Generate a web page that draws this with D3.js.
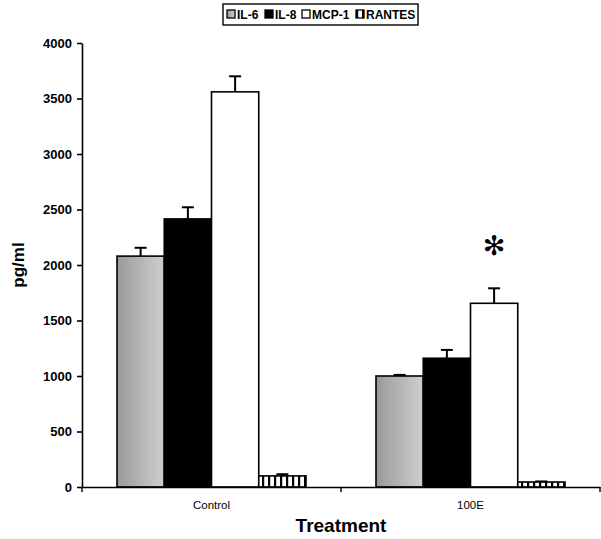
<!DOCTYPE html>
<html>
<head>
<meta charset="utf-8">
<script src="https://cdn.jsdelivr.net/npm/d3@7"></script>
<style>
body { margin: 0; background: #fff; }
text { font-family: Arial, "Liberation Sans", sans-serif; font-weight: bold; }
</style>
</head>
<body>
<div id="chart"></div>
<script>
// data
const treatments = ["Control", "100E"];
const cytokines = ["IL-6", "IL-8", "MCP-1", "RANTES"];
const means = [
    [2080, 2415, 3560, 100],
    [1000, 1160, 1655, 45]
];
const errors = [
    [75, 105, 140, 15],
    [10, 75, 135, 5]
];
const yTicks = [0, 500, 1000, 1500, 2000, 2500, 3000, 3500, 4000];

const W = 601, H = 539;
const margin = { top: 43, right: 1, bottom: 52, left: 82 },
width = W - margin.left - margin.right,
height = H - margin.top - margin.bottom;

const svgRoot = d3.select("#chart")
    .append("svg")
    .attr("width", W)
    .attr("height", H);

const defs = svgRoot.append("defs");
const grad = defs.append("linearGradient").attr("id", "il6grad")
    .attr("x1", "0%").attr("x2", "100%").attr("y1", "0%").attr("y2", "0%");
grad.append("stop").attr("offset", "0%").attr("stop-color", "#9a9a9a");
grad.append("stop").attr("offset", "100%").attr("stop-color", "#cfcfcf");

const pat = defs.append("pattern").attr("id", "stripes")
    .attr("patternUnits", "userSpaceOnUse")
    .attr("width", 6).attr("height", 6);
pat.append("rect").attr("width", 6).attr("height", 6).attr("fill", "#fff");
pat.append("rect").attr("x", 0).attr("width", 2.2).attr("height", 6).attr("fill", "#000");

const fills = ["url(#il6grad)", "#000", "#fff", "url(#stripes)"];

const svg = svgRoot.append("g")
    .attr("transform", `translate(${margin.left},${margin.top})`);

const x0 = d3.scaleBand().domain(treatments).range([0, width]).paddingInner(0).paddingOuter(0);
const x1 = d3.scaleBand().domain(cytokines).range([35, x0.bandwidth() - 35]);
const y = d3.scaleLinear().domain([0, 4000]).range([height, 0]);

// bars
const groups = svg.selectAll(".grp")
    .data(treatments)
    .enter().append("g")
    .attr("class", "grp")
    .attr("transform", d => `translate(${x0(d)},0)`);

groups.each(function (t, ti) {
    const g = d3.select(this);
    const rows = cytokines.map((c, ci) => ({ c: c, ci: ci, v: means[ti][ci], e: errors[ti][ci] }));
    // error bars first so bar outline sits on top
    rows.forEach(d => {
        const cx = x1(d.c) + x1.bandwidth() / 2;
        g.append("line").attr("x1", cx).attr("x2", cx)
            .attr("y1", y(d.v)).attr("y2", y(d.v + d.e))
            .attr("stroke", "#000").attr("stroke-width", 2);
        g.append("line").attr("x1", cx - 6).attr("x2", cx + 6)
            .attr("y1", y(d.v + d.e)).attr("y2", y(d.v + d.e))
            .attr("stroke", "#000").attr("stroke-width", 2);
    });
    g.selectAll("rect.bar")
        .data(rows)
        .enter().append("rect")
        .attr("class", "bar")
        .attr("x", d => x1(d.c))
        .attr("width", x1.bandwidth())
        .attr("y", d => y(d.v))
        .attr("height", d => height - y(d.v))
        .attr("fill", d => fills[d.ci])
        .attr("stroke", "#000")
        .attr("stroke-width", 1.6);
});

// asterisk above 100E MCP-1
svg.append("text")
    .attr("x", x0("100E") + x1("MCP-1") + x1.bandwidth() / 2)
    .attr("y", y(1655 + 135) - 43)
    .attr("text-anchor", "middle")
    .attr("dominant-baseline", "central")
    .style("font-family", "'DejaVu Sans', sans-serif")
    .style("font-weight", "normal")
    .attr("font-size", 27)
    .text("✻");

// y axis
const yAxis = svg.append("g")
    .call(d3.axisLeft(y).tickValues(yTicks).tickFormat(d3.format("d")).tickSize(5).tickSizeOuter(0));
yAxis.select(".domain").attr("stroke-width", 1.6);
yAxis.selectAll(".tick line").attr("stroke-width", 1.6);
yAxis.selectAll("text").attr("font-size", 13).attr("fill", "#000").attr("dx", -2);

// x axis
const xAxis = svg.append("g")
    .attr("transform", `translate(0,${height})`)
    .call(d3.axisBottom(x0).tickSize(0).tickPadding(14));
xAxis.select(".domain").attr("stroke-width", 1.6);
xAxis.selectAll("text").attr("font-size", 11.5).attr("fill", "#000")
    .style("font-weight", "normal");
[0, width / 2, width].forEach(v => {
    xAxis.append("line").attr("x1", v).attr("x2", v).attr("y1", 0).attr("y2", 5)
        .attr("stroke", "#000").attr("stroke-width", 1.4);
});

// axis titles
svgRoot.append("text")
    .attr("transform", `translate(24,${margin.top + height / 2}) rotate(-90)`)
    .attr("text-anchor", "middle")
    .attr("font-size", 17)
    .text("pg/ml");

svgRoot.append("text")
    .attr("x", margin.left + width / 2)
    .attr("y", 532)
    .attr("text-anchor", "middle")
    .attr("font-size", 19)
    .text("Treatment");

// legend
const legend = svgRoot.append("g").attr("transform", "translate(223,4)");
legend.append("rect").attr("width", 195).attr("height", 21)
    .attr("fill", "#fff").attr("stroke", "#000").attr("stroke-width", 1.4);
const legX = [4, 42, 79, 133];
cytokines.forEach((c, i) => {
    const it = legend.append("g").attr("transform", `translate(${legX[i]},6)`);
    it.append("rect").attr("width", 8).attr("height", 8)
        .attr("fill", fills[i]).attr("stroke", "#000").attr("stroke-width", 1.3);
    it.append("text").attr("x", 10).attr("y", 9).attr("font-size", 12).text(c);
});
</script>
</body>
</html>
